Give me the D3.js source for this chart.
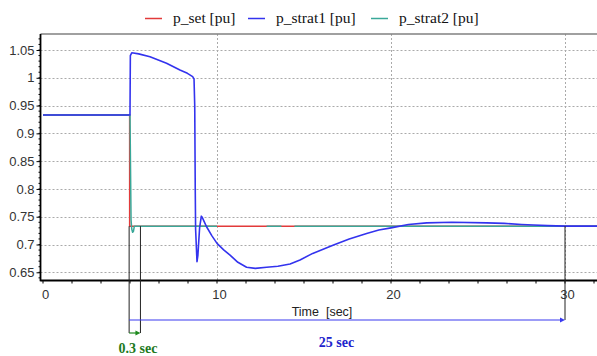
<!DOCTYPE html>
<html>
<head>
<meta charset="utf-8">
<script src="https://cdn.jsdelivr.net/npm/d3@7"></script>
<style>
  html, body { margin: 0; padding: 0; background: #fff; }
  svg { display: block; }
</style>
</head>
<body>
<svg id="chart" width="597" height="356"></svg>
<script>
// ---------------- data ----------------
const seriesNames = ["p_set [pu]", "p_strat1 [pu]", "p_strat2 [pu]"];

const setTime  = [0, 4.98, 4.98, 32];
const setValue = [0.933, 0.933, 0.733, 0.733];

const strat1Time  = [0, 5.0, 5.02, 5.1, 5.5, 6.15, 7.1, 7.87, 8.3, 8.6, 8.68, 8.72, 8.75, 8.77, 8.85, 8.9, 9.0, 9.1, 9.15, 9.25, 9.4, 9.7, 10.0, 10.4, 10.75, 11.2, 11.7, 12.2, 12.85, 13.5, 14.2, 14.77, 15.5, 16.7, 17.6, 18.6, 19.3, 20.0, 21.0, 22.05, 23.5, 25.5, 26.5, 27.5, 28.2, 29.0, 30.0, 32];
const strat1Value = [0.933, 0.933, 1.040, 1.045, 1.043, 1.038, 1.026, 1.014, 1.008, 1.002, 0.998, 0.95, 0.80, 0.728, 0.669, 0.680, 0.730, 0.751, 0.749, 0.742, 0.732, 0.716, 0.702, 0.690, 0.681, 0.668, 0.659, 0.657, 0.659, 0.661, 0.665, 0.672, 0.684, 0.699, 0.710, 0.720, 0.726, 0.730, 0.736, 0.739, 0.740, 0.739, 0.738, 0.736, 0.735, 0.734, 0.733, 0.733];

// null = segment where p_strat2 is not drawn over p_set
const strat2Time  = [0, 5.0, 5.06, 5.1, 5.15, 5.2, 5.25, 10.0, 10.0, 12.85, 12.85, 13.7, 13.7, 14.45, 14.45, 32];
const strat2Value = [0.933, 0.933, 0.745, 0.728, 0.722, 0.724, 0.733, 0.733, null, null, 0.733, 0.733, null, null, 0.733, 0.733];

const xTicks = [0, 10, 20, 30];
const yTicks = [0.65, 0.7, 0.75, 0.8, 0.85, 0.9, 0.95, 1, 1.05];
const yTickLabels = ["0.65", "0.7", "0.75", "0.8", "0.85", "0.9", "0.95", "1", "1.05"];

const xTitle = "Time  [sec]";
const annotTimes = [4.95, 5.6, 30];     // start, 0.3 s end, 25 s end
const annotLevel = 0.733;
const annotLabels = ["0.3 sec", "25 sec"];

const colors = ["#e23a3a", "#3333ee", "#3aa899"];

// ---------------- layout ----------------
const svg = d3.select("#chart");
const W = 597;
const plotLeft = 40.5, plotTop = 34, plotBottom = 280.5, plotRight = 597;

const x = d3.scaleLinear().domain([0, 30]).range([43, 565]);
const y = d3.scaleLinear().domain([0.65, 1.05]).range([272.3, 50]);

svg.append("rect").attr("width", W).attr("height", 356).attr("fill", "#fff");

// grid
const grid = svg.append("g").attr("stroke", "#aaaaaa").attr("stroke-width", 1).attr("stroke-dasharray", "2,2");
yTicks.forEach(v => {
  grid.append("line").attr("x1", plotLeft).attr("x2", plotRight)
    .attr("y1", Math.round(y(v)) + 0.5).attr("y2", Math.round(y(v)) + 0.5);
});
xTicks.filter(t => t > 0).forEach(t => {
  grid.append("line").attr("x1", Math.round(x(t)) + 0.5).attr("x2", Math.round(x(t)) + 0.5)
    .attr("y1", plotTop).attr("y2", plotBottom);
});

// top border
svg.append("line").attr("x1", plotLeft).attr("x2", plotRight).attr("y1", plotTop).attr("y2", plotTop)
  .attr("stroke", "#808080").attr("stroke-width", 1.5);

// lines
const clip = svg.append("clipPath").attr("id", "clip").append("rect")
  .attr("x", plotLeft).attr("y", plotTop).attr("width", plotRight - plotLeft).attr("height", plotBottom - plotTop);

function toPts(ts, vs) { return ts.map((t, i) => [t, vs[i]]); }
const line = d3.line().defined(d => d[1] !== null).x(d => x(d[0])).y(d => y(d[1]));

const lines = svg.append("g").attr("clip-path", "url(#clip)").attr("fill", "none")
  .attr("stroke-linejoin", "round");
lines.append("path").datum(toPts(setTime, setValue)).attr("d", line)
  .attr("stroke", colors[0]).attr("stroke-width", 1.5);
lines.append("path").datum(toPts(strat2Time, strat2Value)).attr("d", line)
  .attr("stroke", colors[2]).attr("stroke-width", 1.5);
lines.append("path").datum(toPts(strat1Time, strat1Value)).attr("d", line)
  .attr("stroke", colors[1]).attr("stroke-width", 1.6);

// axes
const yAxis = d3.axisLeft(y).tickValues(yTicks).tickFormat((d, i) => yTickLabels[i]).tickSize(4).tickPadding(2);
const ga = svg.append("g").attr("transform", `translate(${plotLeft},0)`).call(yAxis);
ga.select(".domain").remove();
ga.selectAll("line").attr("stroke", "#000");
ga.selectAll("text").attr("font-family", "Liberation Sans, Arial, sans-serif").attr("font-size", 13).attr("fill", "#333");

const yMinor = d3.range(0.64, 1.08, 0.01).filter(v => y(v) > plotTop && y(v) < plotBottom);
svg.append("g").selectAll("line").data(yMinor).join("line")
  .attr("x1", plotLeft - 2).attr("x2", plotLeft).attr("y1", d => y(d)).attr("y2", d => y(d))
  .attr("stroke", "#000").attr("stroke-width", 1);

svg.append("line").attr("x1", plotLeft).attr("x2", plotLeft).attr("y1", plotTop).attr("y2", plotBottom + 0.75)
  .attr("stroke", "#000").attr("stroke-width", 1.8);

const xMinor = d3.range(0, 32, 10 / 6);
svg.append("g").selectAll("line").data(xMinor).join("line")
  .attr("x1", d => x(d)).attr("x2", d => x(d)).attr("y1", plotBottom).attr("y2", plotBottom + 3)
  .attr("stroke", "#000").attr("stroke-width", 1);

svg.append("line").attr("x1", plotLeft).attr("x2", plotRight).attr("y1", plotBottom).attr("y2", plotBottom)
  .attr("stroke", "#000").attr("stroke-width", 1.8);

svg.append("g").selectAll("text").data(xTicks).join("text")
  .attr("x", d => x(d) + 2.5).attr("y", 299).attr("text-anchor", "middle")
  .attr("font-family", "Liberation Sans, Arial, sans-serif").attr("font-size", 13).attr("fill", "#333")
  .text(d => d);

svg.append("text").attr("x", 322).attr("y", 316).attr("text-anchor", "middle")
  .attr("font-family", "Liberation Sans, Arial, sans-serif").attr("font-size", 12.5).attr("fill", "#222")
  .style("white-space", "pre").text(xTitle);

// legend
const legendX = [145, 248, 371];
const lg = svg.append("g");
seriesNames.forEach((n, i) => {
  lg.append("line").attr("x1", legendX[i]).attr("x2", legendX[i] + 17).attr("y1", 18.5).attr("y2", 18.5)
    .attr("stroke", colors[i]).attr("stroke-width", 1.5);
  lg.append("text").attr("x", legendX[i] + 28).attr("y", 23)
    .attr("font-family", "Liberation Serif, Times New Roman, serif").attr("font-size", 15.5).attr("fill", "#111")
    .text(n);
});

// annotations
const yLevel = y(annotLevel);
const ann = svg.append("g");
const xa = x(annotTimes[0]), xb = x(annotTimes[1]), xc = x(annotTimes[2]);
ann.append("line").attr("x1", xa).attr("x2", xa).attr("y1", yLevel).attr("y2", 333).attr("stroke", "#222").attr("stroke-width", 1);
ann.append("line").attr("x1", xb).attr("x2", xb).attr("y1", yLevel).attr("y2", 333).attr("stroke", "#222").attr("stroke-width", 1);
ann.append("line").attr("x1", xc).attr("x2", xc).attr("y1", yLevel).attr("y2", 320).attr("stroke", "#222").attr("stroke-width", 1);

ann.append("line").attr("x1", xa).attr("x2", xc - 3).attr("y1", 320).attr("y2", 320).attr("stroke", "#3a3af0").attr("stroke-width", 1.2);
ann.append("path").attr("d", `M${xc},320 L${xc - 5},317.5 L${xc - 5},322.5 Z`).attr("fill", "#3a3af0");

ann.append("line").attr("x1", xa).attr("x2", xb - 3).attr("y1", 333).attr("y2", 333).attr("stroke", "#1e8a1e").attr("stroke-width", 1.2);
ann.append("path").attr("d", `M${xb},333 L${xb - 5},330.5 L${xb - 5},335.5 Z`).attr("fill", "#1e8a1e");

ann.append("text").attr("x", 138).attr("y", 352.5).attr("text-anchor", "middle")
  .attr("font-family", "Liberation Serif, Times New Roman, serif").attr("font-weight", "bold").attr("font-size", 14)
  .attr("fill", "#1e7a1e").text(annotLabels[0]);
ann.append("text").attr("x", 336.5).attr("y", 347).attr("text-anchor", "middle")
  .attr("font-family", "Liberation Serif, Times New Roman, serif").attr("font-weight", "bold").attr("font-size", 14)
  .attr("fill", "#2222cc").text(annotLabels[1]);
</script>
</body>
</html>
